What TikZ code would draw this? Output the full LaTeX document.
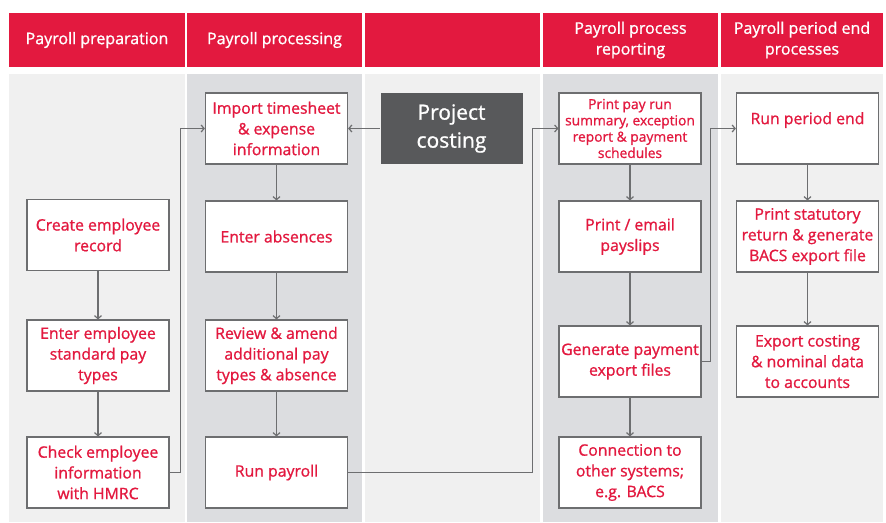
\documentclass[tikz,border=0pt]{standalone}
\usepackage{fontspec}
\setmainfont{Open Sans}
\newfontfamily\medfont{Open Sans}[FakeBold=1]
\usetikzlibrary{arrows.meta}

\definecolor{payred}{HTML}{E3193F}
\definecolor{darkgrey}{HTML}{58595B}
\definecolor{lanelight}{HTML}{F0F0F0}
\definecolor{lanedark}{HTML}{DCDDE0}
\definecolor{linegrey}{HTML}{6D6E70}

\begin{document}
\begin{tikzpicture}[x=1pt,y=-1pt,
  head/.style={fill=payred,text=white,minimum height=54,inner sep=0pt,
    align=center,font=\medfont\fontsize{16}{20.8}\selectfont},
  box/.style={draw=linegrey,line width=1.2pt,fill=white,text=payred,
    minimum width=142,minimum height=71,inner sep=1pt,align=center,
    font=\medfont\fontsize{15.8}{20.7}\selectfont},
  arr/.style={draw=linegrey,line width=1.2pt,-{Straight Barb[length=3pt,width=7pt]}}]

\useasboundingbox (0,0) rectangle (886,522);

% lanes and headings
\foreach \xa/\xb/\lane/\txt in {9/185/lanelight/Payroll preparation,
    187/362/lanedark/Payroll processing,
    365/540/lanelight/,
    543/718/lanedark/Payroll process\\reporting,
    721/883/lanelight/Payroll period end\\processes}{
  \fill[\lane] (\xa,74) rectangle (\xb,522);
  \node[head,minimum width=\xb-\xa] at ({(\xa+\xb)/2},40) {\txt};
}

% payroll preparation
\node[box] (create) at (98,235) {Create employee\\record};
\node[box] (stdpay) at (98,355.5) {Enter employee\\standard pay\\types};
\node[box] (check) at (98,472.5) {Check employee\\information\\with HMRC};

% payroll processing
\node[box] (import) at (276.5,128.5) {Import timesheet\\\& expense\\information};
\node[box] (absence) at (276.5,236.5) {Enter absences};
\node[box] (review) at (276.5,355.5) {Review \& amend\\additional pay\\types \& absence};
\node[box] (runpay) at (276.5,472.5) {Run payroll};

\node[box,draw=none,fill=darkgrey,text=white,
  font=\medfont\fontsize{21}{28}\selectfont] (cost) at (451.5,128.5) {Project\\costing};

% reporting
\node[box,font=\medfont\fontsize{13.8}{16.3}\selectfont] (printrun) at (630,128.5)
  {Print pay run\\summary, exception\\report \& payment\\schedules};
\node[box] (payslip) at (630,236.5) {Print / email\\payslips};
\node[box] (genpay) at (630,361.5) {Generate payment\\export files};
\node[box] (connect) at (630,472.5) {Connection to\\other systems;\\e.g. BACS};

% period end
\node[box] (period) at (807.5,128.5) {Run period end\\\mbox{}};
\node[box] (statut) at (807.5,236.5) {Print statutory\\return \& generate\\BACS export file};
\node[box] (export) at (807.5,361.5) {Export costing\\\& nominal data\\to accounts};

% flow
\draw[arr] (create) -- (stdpay);
\draw[arr] (stdpay) -- (check);
\draw[arr] (check.east) -- ++(11,0) |- (import.west);
\draw[arr] (cost) -- (import);
\draw[arr] (import) -- (absence);
\draw[arr] (absence) -- (review);
\draw[arr] (review) -- (runpay);
\draw[arr] (runpay.east) -- ++(184,0) |- (printrun.west);
\draw[arr] (printrun) -- (payslip);
\draw[arr] (payslip) -- (genpay);
\draw[arr] (genpay) -- (connect);
\draw[arr] (genpay.east) -- ++(9,0) |- (period.west);
\draw[arr] (period) -- (statut);
\draw[arr] (statut) -- (export);
\end{tikzpicture}
\end{document}
